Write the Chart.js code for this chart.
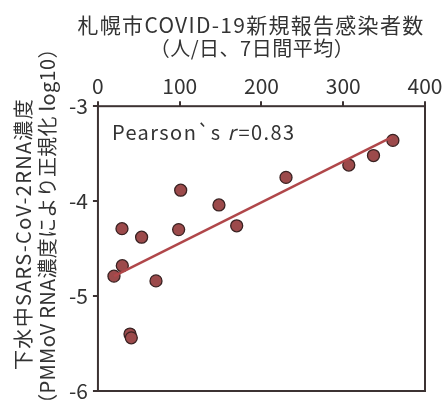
<!DOCTYPE html>
<html>
<head>
<meta charset="utf-8">
<script src="https://cdn.jsdelivr.net/npm/chart.js@4"></script>
<style>
  body { margin: 0; background: #fff; }
  #wrap { width: 446px; height: 420px; }
</style>
</head>
<body>
<div id="wrap"><canvas id="grafico"></canvas></div>
<script>
// 新規報告感染者数 (人/日) と 下水中RNA濃度 (log10)
let casos = [19.6, 29.8, 29.4, 53.4, 71, 39.2, 40.8, 98.7, 101.2, 148, 169.7, 230, 306.8, 337, 360.7];
let rna = [-4.79, -4.68, -4.29, -4.38, -4.84, -5.40, -5.44, -4.30, -3.885, -4.04, -4.26, -3.75, -3.62, -3.52, -3.36];

// 回帰直線の両端
let linhaX = [19.6, 359.5];
let linhaY = [-4.79, -3.325];

let xTicks = [0, 100, 200, 300, 400];
let yTicks = [-6, -5, -4, -3];

let tituloX = ["札幌市COVID-19新規報告感染者数", "（人/日、7日間平均）"];
let tituloY = ["下水中SARS-CoV-2RNA濃度", "（PMMoV RNA濃度により正規化 log10）"];

let fonte = "'Noto Sans CJK JP', 'Noto Sans', sans-serif";
let corTexto = "#333";
let corEixo = "#3c3232";

// --=| moldura, títulos e texto do Pearson
const moldura = {
  id: "moldura",
  afterDraw(chart) {
    const { ctx, chartArea: a } = chart;
    ctx.save();
    ctx.strokeStyle = corEixo;
    ctx.lineWidth = 2;
    ctx.strokeRect(a.left, a.top, a.right - a.left, a.bottom - a.top);

    ctx.fillStyle = corTexto;
    ctx.textBaseline = "middle";
    ctx.textAlign = "center";

    // título de cima
    ctx.font = "21px " + fonte;
    ctx.letterSpacing = "1.3px";
    ctx.fillText(tituloX[0], 251, 25);
    ctx.font = "20px " + fonte;
    ctx.letterSpacing = "0.5px";
    ctx.fillText(tituloX[1], 252, 48);

    // título da esquerda
    ctx.save();
    ctx.translate(a.left - 75, 234);
    ctx.rotate(-Math.PI / 2);
    ctx.font = "20px " + fonte;
    ctx.letterSpacing = "1.3px";
    ctx.fillText(tituloY[0], 0, 0);
    ctx.restore();
    ctx.save();
    ctx.translate(a.left - 51, 226);
    ctx.rotate(-Math.PI / 2);
    ctx.font = "20px " + fonte;
    ctx.letterSpacing = "0.3px";
    ctx.fillText(tituloY[1], 0, 0);
    ctx.restore();

    // Pearson
    ctx.textAlign = "left";
    ctx.letterSpacing = "1.4px";
    let x = a.left + 14;
    let y = a.top + 26;
    ctx.font = "20px " + fonte;
    let t1 = "Pearson`s ";
    ctx.fillText(t1, x, y);
    x += ctx.measureText(t1).width;
    ctx.font = "italic 20px " + fonte;
    ctx.fillText("r", x, y);
    x += ctx.measureText("r").width + 2;
    ctx.font = "20px " + fonte;
    ctx.fillText("=0.83", x, y);
    ctx.restore();
  },
};

const dados = {
  datasets: [
    {
      type: "line",
      data: linhaX.map((v, i) => ({ x: v, y: linhaY[i] })),
      borderColor: "#b0474a",
      borderWidth: 2.5,
      pointRadius: 0,
      fill: false,
    },
    {
      type: "scatter",
      data: casos.map((v, i) => ({ x: v, y: rna[i] })),
      backgroundColor: "#9c4a4b",
      borderColor: "#3a2222",
      borderWidth: 1.3,
      pointRadius: 6,
    },
  ],
};

new Chart(document.getElementById("grafico"), {
  type: "scatter",
  data: dados,
  options: {
    responsive: true,
    maintainAspectRatio: false,
    animation: false,
    layout: { padding: { left: 64, right: 21, bottom: 29, top: 70 } },
    plugins: { legend: { display: false }, tooltip: { enabled: false } },
    scales: {
      x: {
        type: "linear",
        position: "top",
        min: 0,
        max: 400,
        afterBuildTicks: (s) => { s.ticks = xTicks.map((v) => ({ value: v })); },
        grid: { drawOnChartArea: false, tickLength: 5, color: corEixo, lineWidth: 2 },
        border: { display: false },
        ticks: { color: corTexto, font: { size: 21, family: fonte }, padding: 3 },
      },
      y: {
        min: -6,
        max: -3,
        afterBuildTicks: (s) => { s.ticks = yTicks.map((v) => ({ value: v })); },
        grid: { drawOnChartArea: false, tickLength: 5, color: corEixo, lineWidth: 2 },
        border: { display: false },
        ticks: { color: corTexto, font: { size: 21, family: fonte }, padding: 5 },
      },
    },
  },
  plugins: [moldura],
});
</script>
</body>
</html>
